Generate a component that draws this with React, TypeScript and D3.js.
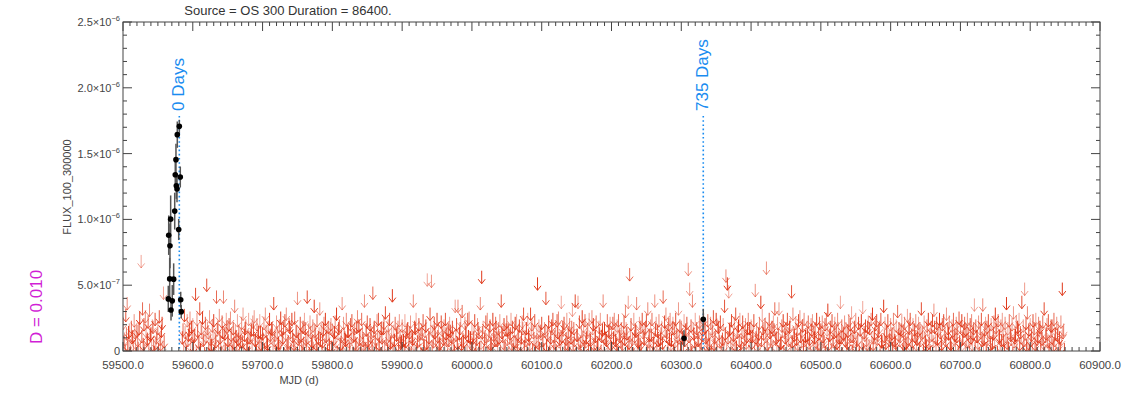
import React from "react";
import * as d3 from "d3";

// light curve bins: upper limits, units of 1e-7
// even days (from 59500, every 2 days)
const UL_START = 59500;
const UL_STEP = 2;
const UL_59500 = [2.6,1.4,3.2,4.1,1.9,0.8,2.3,1.6,2.8,1.1,2.0,0.7,3.0,7.3,3.7,2.5,3.1,1.3,2.7,3.6,1.8,2.4,0.9,2.9,1.5,2.2,3.1,1.0,2.6,4.9,null,null,null,null,null,null,null,null,null,null,null,null,null,2.1,3.2,1.2,2.8,1.7,3.0,2.3];
const UL_59600 = [2.5,1.6,4.8,2.9,1.2,3.7,2.2,3.0,1.4,2.6,5.5,1.9,3.1,0.9,2.4,2.8,1.5,4.6,2.3,3.2,1.1,2.7,4.6,1.8,2.9,1.3,2.5,3.0,0.8,2.2,3.9,1.6,2.8,2.0,1.2,2.6,3.3,1.7,2.4,0.9,2.9,1.5,2.1,2.7,3.1,1.3,2.5,1.9,2.8,1.0];
const UL_59700 = [1.8,2.6,3.3,1.2,2.3,2.9,1.5,2.1,4.1,1.7,2.7,0.9,2.4,3.0,1.4,2.2,2.8,3.3,1.1,2.5,1.9,2.9,1.3,3.0,2.0,4.5,1.6,2.6,0.8,2.3,2.9,1.4,4.6,2.1,2.7,1.0,2.4,3.9,1.8,2.8,1.5,3.7,2.2,1.2,2.6,2.9,1.7,2.3,0.9,2.5];
const UL_59800 = [2.1,1.4,2.7,3.3,1.8,2.4,1.0,4.1,2.6,1.5,2.9,2.0,1.2,2.5,2.8,1.6,2.2,0.9,3.1,2.4,1.7,2.9,1.3,4.3,2.1,2.7,1.1,2.5,1.9,4.9,2.3,1.4,2.8,2.9,1.6,2.2,0.8,2.6,3.4,1.5,2.4,2.9,1.2,4.7,2.0,2.6,1.7,2.3,2.8,1.1];
const UL_59900 = [2.4,1.3,2.8,1.9,2.2,1.0,2.7,1.6,4.3,2.3,2.9,1.2,2.5,1.8,2.1,2.8,0.9,2.4,5.9,1.5,3.3,5.8,2.0,2.6,1.4,2.9,2.2,1.1,2.7,1.7,2.4,2.9,1.3,2.1,2.6,1.6,2.3,0.9,3.9,2.5,3.9,1.8,2.8,3.5,1.2,2.6,2.0,2.9,3.0,1.5];
const UL_60000 = [2.2,1.5,2.8,1.0,2.5,1.9,4.1,6.1,2.3,1.4,2.7,2.9,1.7,2.4,1.1,2.9,2.0,2.6,1.3,2.2,2.8,4.3,1.6,2.5,0.9,2.7,2.1,1.5,2.9,2.3,1.2,2.6,2.8,1.8,2.4,1.0,2.7,3.3,1.6,2.2,2.9,1.4,3.3,2.5,1.9,2.8,1.2,5.6,2.4,2.0];
const UL_60100 = [2.6,1.3,2.2,4.5,1.8,2.7,1.1,2.4,2.9,1.6,2.1,2.8,3.0,1.4,4.2,2.3,2.6,1.0,2.9,1.9,2.5,1.5,3.6,2.2,4.3,1.7,4.2,2.7,1.2,3.1,2.4,2.8,1.5,2.1,2.9,1.3,3.1,2.5,1.8,2.7,0.9,2.3,2.9,1.6,4.3,2.2,1.4,2.8,2.0,2.6];
const UL_60200 = [1.9,2.6,2.9,1.3,2.4,2.8,1.6,2.2,1.0,2.7,3.5,1.8,4.2,6.3,2.5,1.4,2.9,2.1,4.1,1.2,2.6,2.3,2.9,1.5,2.2,2.8,3.7,1.7,2.4,2.9,1.1,4.3,2.6,2.0,2.8,1.4,2.3,4.6,2.7,3.3,1.9,2.5,2.9,1.3,2.6,2.2,2.9,1.6,3.7,2.4];
const UL_60300 = [2.3,1.5,2.8,2.1,2.6,6.7,5.2,2.4,4.3,1.8,2.9,2.2,1.3,2.7,2.5,1.7,2.9,2.3,1.6,2.8,1.0,2.6,2.2,3.1,1.5,2.9,2.4,1.8,2.7,1.2,2.5,3.9,6.2,5.6,5.0,2.2,2.8,1.4,2.6,3.3,1.9,2.4,2.9,1.1,2.7,2.0,2.5,1.6,2.9,2.2];
const UL_60400 = [2.4,1.6,2.8,5.1,2.1,1.3,2.6,4.2,3.2,1.8,2.5,6.8,2.2,2.9,1.4,2.3,2.7,3.7,1.5,2.6,3.7,1.1,2.4,2.8,1.9,2.2,2.9,1.3,2.5,5.0,3.3,1.7,2.6,2.1,2.8,3.1,1.2,2.4,2.9,1.6,2.3,2.7,1.4,2.5,2.8,1.9,2.2,2.9,1.0,2.6];
const UL_60500 = [2.1,2.7,1.4,2.5,2.9,3.6,1.7,2.3,2.8,1.2,2.6,2.0,2.9,1.5,4.2,2.4,1.8,2.7,2.2,1.1,2.8,2.5,3.4,1.6,2.3,2.9,1.3,2.6,2.1,2.8,3.8,1.9,2.4,1.0,2.7,2.2,2.9,3.3,1.5,2.5,2.8,1.7,2.3,2.9,1.2,3.9,2.6,2.0,2.8,1.6];
const UL_60600 = [2.5,1.8,2.9,1.3,2.4,3.5,2.2,1.6,2.8,2.0,2.6,1.1,3.2,2.3,2.9,1.7,2.5,2.1,2.8,1.4,2.6,2.2,3.7,1.9,2.7,1.2,2.4,2.9,1.6,2.3,2.8,3.6,1.5,2.6,2.1,2.9,1.3,2.5,2.8,1.8,3.3,2.2,2.7,1.0,2.4,2.9,1.7,2.6,2.2,3.0];
const UL_60700 = [2.3,2.8,1.5,2.6,2.1,2.9,1.2,2.5,2.8,1.8,4.0,2.4,1.6,2.7,2.2,2.9,4.0,1.4,2.6,2.3,2.8,1.9,2.5,1.1,2.7,3.3,2.1,2.8,1.6,2.4,2.9,1.3,2.6,4.1,2.2,2.8,1.7,2.5,3.4,1.5,2.7,2.3,2.9,1.9,4.2,2.4,5.2,2.6,3.4,2.1];
const UL_60800 = [2.5,1.7,2.8,2.2,2.9,1.4,2.6,2.3,1.9,2.7,3.7,1.6,2.5,2.8,1.2,2.4,2.4,2.9,1.8,2.6,2.2,1.5,2.7,5.2,2.1];

// odd days (from 59501, every 2 days)
const ODD_START = 59501;
const ODD_59500 = [1.2,0.5,1.8,0.9,2.1,0.4,1.5,0.8,1.9,0.3,1.3,2.2,0.7,1.6,1.0,0.5,2.0,1.4,0.6,1.7,0.9,2.3,0.4,1.1,1.8,0.6,1.4,2.0,0.8,1.2,null,null,null,null,null,null,null,null,null,null,null,null,1.5,0.7,1.9,0.4,1.3,2.1,0.9,1.6];
const ODD_59600 = [0.8,1.7,0.4,2.0,1.1,0.6,1.9,1.3,0.3,1.6,2.2,0.7,1.4,0.9,1.8,0.5,1.2,2.1,0.8,1.5,0.4,1.9,1.0,0.6,2.3,1.3,0.7,1.7,0.5,1.1,2.0,0.9,1.4,0.3,1.8,1.2,0.6,2.2,1.0,1.5,0.4,1.7,0.8,2.1,1.3,0.5,1.6,0.9,1.9,0.7];
const ODD_59700 = [1.4,0.6,2.0,1.0,0.4,1.7,2.2,0.8,1.3,0.5,1.9,1.1,0.7,2.1,1.5,0.3,1.8,0.9,1.2,2.3,0.6,1.6,1.0,0.4,2.0,1.4,0.8,1.7,0.5,1.1,2.2,0.9,1.5,0.3,1.9,1.2,0.7,2.0,1.0,0.6,1.8,1.3,0.4,2.1,0.9,1.6,0.5,1.4,2.2,0.8];
const ODD_59800 = [0.7,1.9,1.2,0.4,2.2,1.0,1.6,0.5,1.8,1.3,0.9,2.0,0.6,1.5,0.3,1.7,1.1,2.3,0.8,1.4,0.5,1.9,1.0,0.7,2.1,1.3,0.4,1.6,0.9,2.0,1.2,0.6,1.8,1.0,0.3,1.5,2.2,0.8,1.4,0.5,1.7,1.1,2.0,0.7,1.3,0.4,1.9,0.9,1.6,1.2];
const ODD_59900 = [1.6,0.5,1.2,2.1,0.8,1.9,0.4,1.4,1.0,2.2,0.6,1.7,1.3,0.3,1.8,0.9,2.0,1.1,0.5,1.5,2.3,0.7,1.2,1.9,0.4,1.6,1.0,0.6,2.1,1.4,0.8,1.8,0.3,1.3,2.0,0.9,1.5,0.5,1.7,1.1,0.6,2.2,1.0,1.4,0.4,1.9,0.8,1.6,1.2,0.7];
const ODD_60000 = [0.9,1.8,0.5,1.4,2.2,0.7,1.1,1.9,0.4,1.6,1.2,0.3,2.0,1.0,0.6,1.7,1.3,2.3,0.8,1.5,0.5,1.9,1.1,0.7,2.1,1.4,0.4,1.8,1.0,0.6,2.0,1.2,0.9,1.6,0.3,1.5,2.2,0.8,1.3,0.5,1.7,1.0,2.1,0.6,1.4,0.4,1.9,1.1,0.7,1.8];
const ODD_60100 = [1.3,0.6,2.0,0.9,1.7,0.4,1.5,2.2,0.8,1.1,0.5,1.9,1.2,0.3,1.6,2.1,0.7,1.4,1.0,0.6,1.8,2.3,0.9,1.3,0.4,1.7,1.1,0.5,2.0,1.5,0.8,1.2,1.9,0.6,1.4,0.3,2.2,1.0,1.6,0.7,1.1,1.8,0.5,2.1,0.9,1.5,1.3,0.4,1.9,1.0];
const ODD_60200 = [0.6,1.5,2.1,1.0,0.4,1.8,1.2,0.7,1.9,1.4,2.2,0.5,1.1,1.7,0.9,0.3,1.6,2.0,0.8,1.3,1.0,0.6,1.9,1.4,2.3,0.5,1.2,0.8,1.7,0.4,1.5,2.1,0.9,1.3,0.6,1.8,1.1,0.3,2.0,1.6,0.7,1.4,1.0,2.2,0.5,1.2,1.9,0.8,1.5,0.6];
const ODD_60300 = [1.7,0.8,1.3,2.0,0.5,1.6,1.0,0.4,2.2,1.2,0.7,1.9,1.4,0.6,1.1,2.1,0.3,1.5,0.9,1.8,1.3,0.5,2.0,1.0,1.6,0.7,2.3,1.2,0.4,1.4,0.9,1.8,0.6,1.5,2.1,1.1,0.3,1.7,1.0,0.8,2.0,1.3,0.5,1.9,0.7,1.4,1.1,2.2,0.6,1.6];
const ODD_60400 = [1.1,2.0,0.6,1.5,0.9,1.8,0.4,1.3,2.2,0.7,1.6,1.0,0.3,1.9,1.2,0.5,2.1,1.4,0.8,1.7,0.6,1.1,2.0,0.4,1.5,0.9,1.8,2.3,0.7,1.2,1.9,0.5,1.4,1.0,0.3,1.6,2.0,0.8,1.3,0.6,1.7,1.1,0.4,2.1,0.9,1.5,1.2,0.7,1.8,1.0];
const ODD_60500 = [0.8,1.6,1.2,0.4,2.1,1.0,1.7,0.6,1.4,1.9,0.5,1.1,2.2,0.9,1.5,0.3,1.8,1.3,0.7,2.0,1.0,1.6,0.5,1.2,1.9,0.8,1.4,0.4,2.1,1.1,0.6,1.7,1.3,2.3,0.9,0.5,1.5,1.0,1.8,0.7,1.4,2.0,0.4,1.2,0.8,1.6,1.1,1.9,0.6,1.3];
const ODD_60600 = [1.5,0.7,1.9,1.1,0.4,1.7,1.3,2.1,0.6,1.0,1.8,0.5,1.4,2.2,0.9,1.2,0.3,1.6,1.0,2.0,0.7,1.3,1.8,0.5,1.5,0.9,2.1,1.1,0.4,1.7,1.2,2.3,0.8,1.4,0.6,1.9,1.0,0.3,1.6,1.3,0.5,1.8,1.1,0.7,2.0,1.4,0.9,1.6,0.4,1.2];
const ODD_60700 = [0.9,1.4,2.0,0.6,1.2,1.8,0.4,1.5,1.0,2.2,0.7,1.6,1.1,0.3,1.9,1.3,0.8,2.1,0.5,1.4,1.7,1.0,0.6,1.8,1.2,2.3,0.4,1.5,0.9,1.3,2.0,0.5,1.6,1.1,0.7,1.9,1.4,0.3,1.2,1.7,0.8,2.1,1.0,1.5,0.6,1.3,1.8,0.9,1.1,0.5];
const ODD_60800 = [1.3,0.7,1.9,1.0,0.5,1.6,2.1,0.8,1.4,1.1,0.4,1.8,1.2,0.6,2.0,1.5,0.9,1.3,0.5,1.7,1.0,0.7,1.4,1.9,0.6];

// detections (flux and error in 1e-7)
const DET_MJD = [59564.9,59565.5,59566.9,59567.3,59568.3,59568.8,59570.6,59572.6,59574.1,59574.9,59575.9,59576.4,59577.4,59577.8,59579.8,59580.7,59582.1,59582.7,59583.5,60303.9,60331.5];
const DET_FLUX = [3.96,8.80,5.48,7.99,10.02,3.12,3.81,5.46,10.63,13.39,14.54,12.56,12.31,16.44,9.23,17.07,13.22,3.90,2.99,0.97,2.41];
const DET_ERR = [1.0,1.5,1.6,1.7,1.8,0.8,1.2,1.2,1.4,1.0,1.2,1.0,1.0,1.0,0.8,0.5,0.8,0.6,0.5,0.6,0.8];

const MARK_MJD = [59580.7, 60331.5];
const MARK_LABEL = ["0 Days", "735 Days"];

const Y_TICKS = [0, 5e-7, 1e-6, 1.5e-6, 2e-6, 2.5e-6];
const Y_MANT = ["0", "5.0", "1.0", "1.5", "2.0", "2.5"];
const Y_EXP = ["", "−7", "−6", "−6", "−6", "−6"];
const X_TICKS = [59500,59600,59700,59800,59900,60000,60100,60200,60300,60400,60500,60600,60700,60800,60900];

const TITLE = "Source = OS 300 Duration = 86400.";
const D_LABEL = "D = 0.010";

const FONT = "'Liberation Sans', Arial, sans-serif";
const AX = "#444";

export default function App() {
  const width = 1135;
  const height = 394;
  const left = 123, right = 1100, top = 22, bottom = 351;

  const x = d3.scaleLinear().domain([59500, 60900]).range([left, right]);
  const y = d3.scaleLinear().domain([0, 2.5e-6]).range([bottom, top]);

  const evens = [UL_59500,UL_59600,UL_59700,UL_59800,UL_59900,UL_60000,UL_60100,UL_60200,UL_60300,UL_60400,UL_60500,UL_60600,UL_60700,UL_60800].flat()
    .map((v, i) => ({ mjd: UL_START + i * UL_STEP, flux: v }));
  const odds = [ODD_59500,ODD_59600,ODD_59700,ODD_59800,ODD_59900,ODD_60000,ODD_60100,ODD_60200,ODD_60300,ODD_60400,ODD_60500,ODD_60600,ODD_60700,ODD_60800].flat()
    .map((v, i) => ({ mjd: ODD_START + i * UL_STEP, flux: v }));
  const uls = [...odds, ...evens].filter((d) => d.flux != null);

  const opac = [0.5, 0.85, 0.6, 1.0, 0.45, 0.75, 0.9, 0.55];

  const xMinor = d3.range(59500, 60901, 10);
  const yMinor = d3.range(0, 26).map((i) => i * 1e-7);

  return (
    <svg width={width} height={height} style={{ position: "absolute", left: 0, top: 0, background: "#fff" }} fontFamily={FONT}>
      <defs>
        <clipPath id="plotclip">
          <rect x={left} y={top} width={right - left} height={bottom - top} />
        </clipPath>
      </defs>

      <g clipPath="url(#plotclip)">
        {uls.map((d, i) => {
          const cx = x(d.mjd);
          const y0 = y(d.flux * 1e-7);
          return (
            <path key={"ul" + i}
              d={`M${cx},${y0}V${y0 + 13}M${cx - 3.5},${y0 + 8.5}L${cx},${y0 + 13}L${cx + 3.5},${y0 + 8.5}`}
              fill="none" stroke="#e0381a" strokeWidth={1} strokeOpacity={opac[i % opac.length]} />
          );
        })}

        {MARK_MJD.map((m, i) => (
          <line key={"mk" + i} x1={x(m)} x2={x(m)} y1={116} y2={bottom}
            stroke="#1a8cf0" strokeWidth={1.6} strokeDasharray="1.6,2.6" />
        ))}

        {DET_MJD.map((m, i) => (
          <line key={"eb" + i} x1={x(m)} x2={x(m)}
            y1={y((DET_FLUX[i] - DET_ERR[i]) * 1e-7)} y2={y((DET_FLUX[i] + DET_ERR[i]) * 1e-7)}
            stroke="#555" strokeWidth={1.5} />
        ))}
        {DET_MJD.map((m, i) => (
          <circle key={"dt" + i} cx={x(m)} cy={y(DET_FLUX[i] * 1e-7)} r={2.8} fill="#000" />
        ))}
      </g>

      {MARK_MJD.map((m, i) => (
        <text key={"ml" + i} transform={`translate(${x(m) + 5},${111}) rotate(-90)`}
          fontSize={17} fill="#1a8cf0">{MARK_LABEL[i]}</text>
      ))}

      {/* frame */}
      <rect x={left} y={top} width={right - left} height={bottom - top} fill="none" stroke={AX} strokeWidth={1} />

      {/* x ticks, bottom and top */}
      {xMinor.map((v) => {
        const major = X_TICKS.includes(v);
        const len = major ? 9 : 4;
        return (
          <g key={"xt" + v}>
            <line x1={x(v)} x2={x(v)} y1={bottom} y2={bottom - len} stroke={AX} />
            <line x1={x(v)} x2={x(v)} y1={top} y2={top + len} stroke={AX} />
          </g>
        );
      })}
      {X_TICKS.map((v) => (
        <text key={"xl" + v} x={x(v)} y={369} fontSize={11.5} fill={AX} textAnchor="middle">{`${v}.0`}</text>
      ))}

      {/* y ticks, left and right */}
      {yMinor.map((v, i) => {
        const major = i % 5 === 0;
        const len = major ? 9 : 4;
        return (
          <g key={"yt" + i}>
            <line x1={left} x2={left + len} y1={y(v)} y2={y(v)} stroke={AX} />
            <line x1={right} x2={right - len} y1={y(v)} y2={y(v)} stroke={AX} />
          </g>
        );
      })}
      {Y_TICKS.map((v, i) => (
        <text key={"yl" + i} x={120} y={y(v) + 4} fontSize={11} fill={AX} textAnchor="end">
          {Y_EXP[i] === "" ? Y_MANT[i] : (
            <>
              {Y_MANT[i] + "×10"}
              <tspan dy={-5} fontSize={7.5}>{Y_EXP[i]}</tspan>
            </>
          )}
        </text>
      ))}

      <text x={288} y={15} fontSize={13} fill="#333" textAnchor="middle">{TITLE}</text>
      <text x={299} y={384} fontSize={11} fill={AX} textAnchor="middle">MJD (d)</text>
      <text transform={`translate(71,187) rotate(-90)`} fontSize={11} fill={AX} textAnchor="middle">FLUX_100_300000</text>
      <text transform={`translate(42,307) rotate(-90)`} fontSize={17} fill="#d11fd6" textAnchor="middle">{D_LABEL}</text>
    </svg>
  );
}
